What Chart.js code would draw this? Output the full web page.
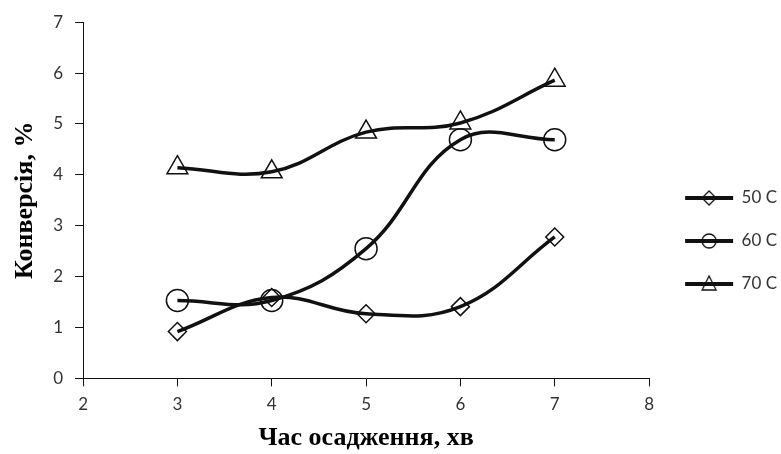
<!DOCTYPE html>
<html lang="uk">
  <head>
    <meta charset="UTF-8" />
    <title>Конверсія</title>
    <style>
      body { margin: 0; background: #fff; }
      #wrap { width: 781px; height: 454px; }
    </style>
  </head>
  <body>
    <div id="wrap"><canvas id="grafik"></canvas></div>
    <script src="https://cdn.jsdelivr.net/npm/chart.js"></script>
    <script>
      // час осадження, хв
      const xValues = [3, 4, 5, 6, 7];
      const conv50 = [0.92, 1.59, 1.27, 1.41, 2.78];
      const conv60 = [1.53, 1.53, 2.55, 4.69, 4.69];
      const conv70 = [4.14, 4.06, 4.84, 5.02, 5.86];
      const seriesNames = ["50 C", "60 C", "70 C"];

      function toPoints(arr) {
        return arr.map((v, i) => ({ x: xValues[i], y: v }));
      }

      // маленькі картинки для легенди: лінія + маркер
      function legendIcon(kind) {
        const c = document.createElement("canvas");
        c.width = 56;
        c.height = 22;
        const g = c.getContext("2d");
        g.strokeStyle = "#111";
        g.lineWidth = 4;
        g.beginPath();
        g.moveTo(4, 11);
        g.lineTo(52, 11);
        g.stroke();
        g.lineWidth = 1.3;
        g.beginPath();
        if (kind === "rectRot") {
          g.moveTo(28, 4); g.lineTo(35, 11); g.lineTo(28, 18); g.lineTo(21, 11); g.closePath();
        } else if (kind === "circle") {
          g.arc(28, 11, 7, 0, Math.PI * 2);
        } else {
          g.moveTo(28, 3); g.lineTo(35, 17); g.lineTo(21, 17); g.closePath();
        }
        g.stroke();
        return c;
      }

      const styles = ["rectRot", "circle", "triangle"];
      const radii = [9, 11, 12];
      const icons = styles.map(legendIcon);

      const sets = [conv50, conv60, conv70].map((arr, i) => ({
        label: seriesNames[i],
        data: toPoints(arr),
        borderColor: "#111",
        borderWidth: 3.5,
        tension: 0.4,
        pointStyle: styles[i],
        pointRadius: radii[i],
        pointBorderWidth: 1.5,
        pointBorderColor: "#111",
        pointBackgroundColor: "rgba(0,0,0,0)",
      }));

      const tickFont = { family: "Lato", size: 17 };
      const titleFont = { family: "Liberation Serif", size: 26, weight: "bold" };

      // легенду трохи нижче і правіше, як в оригіналі
      const shiftLegend = {
        id: "shiftLegend",
        afterLayout(chart) {
          const l = chart.legend;
          l.top += 10;
          l.bottom += 10;
          l.left += 10;
          l.right += 10;
        },
      };

      new Chart(document.getElementById("grafik"), {
        type: "line",
        data: { datasets: sets },
        plugins: [shiftLegend],
        options: {
          responsive: true,
          maintainAspectRatio: false,
          animation: false,
          layout: { padding: { top: 8, left: 10, right: 4, bottom: 0 } },
          plugins: {
            legend: {
              position: "right",
              labels: {
                usePointStyle: true,
                pointStyleWidth: 48,
                padding: 26,
                color: "#333",
                font: tickFont,
                generateLabels(chart) {
                  const items = Chart.defaults.plugins.legend.labels.generateLabels(chart);
                  items.forEach((it, i) => { it.pointStyle = icons[i]; });
                  return items;
                },
              },
            },
            tooltip: { enabled: false },
          },
          scales: {
            x: {
              type: "linear",
              min: 2,
              max: 8,
              ticks: { stepSize: 1, color: "#333", font: tickFont, padding: 8 },
              grid: { drawOnChartArea: false, tickLength: 8, color: "#111" },
              border: { color: "#111" },
              title: { display: true, text: "Час осадження, хв", color: "#000", font: titleFont, padding: { top: 0, bottom: 0 } },
            },
            y: {
              min: 0,
              max: 7,
              ticks: { stepSize: 1, color: "#333", font: tickFont, padding: 12 },
              grid: { drawOnChartArea: false, tickLength: 8, color: "#111" },
              border: { color: "#111" },
              title: { display: true, text: "Конверсія, %", color: "#000", font: titleFont, padding: { top: 0, bottom: 0 } },
            },
          },
        },
      });
    </script>
  </body>
</html>
